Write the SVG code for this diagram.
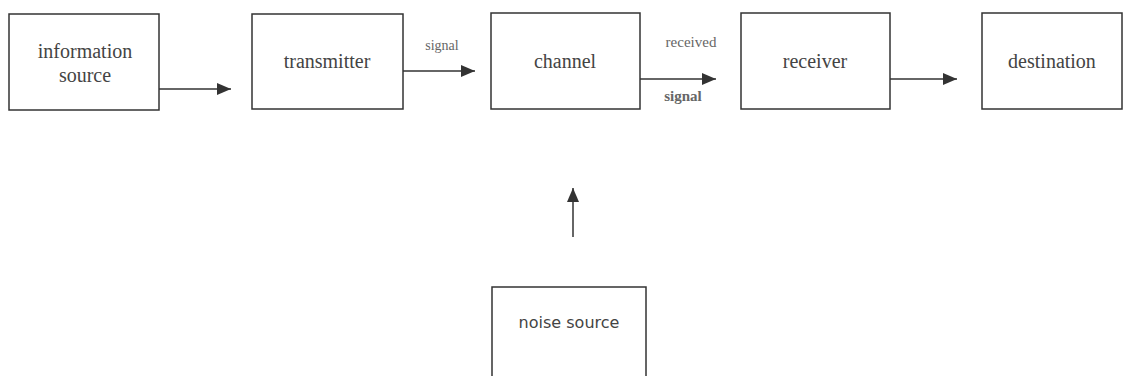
<svg xmlns="http://www.w3.org/2000/svg" width="1126" height="376" viewBox="0 0 1126 376">
<style>
.box{fill:#fff;stroke:#333;stroke-width:1.5}
.t{font-family:"Liberation Serif",serif;font-size:20px;fill:#444;text-anchor:middle}
.s{font-family:"Liberation Serif",serif;font-size:14px;fill:#666;text-anchor:middle}
.c{stroke:#333;stroke-width:1.5;fill:none;marker-end:url(#ah)}
</style>
<defs>
<marker id="ah" markerWidth="14" markerHeight="12" refX="14" refY="6" orient="auto" markerUnits="userSpaceOnUse">
<path d="M0,0 L14,6 L0,12 Z" fill="#333"/>
</marker>
</defs>
<rect width="1126" height="376" fill="#fff"/>
<g id="information-source"><rect class="box" x="9" y="14" width="150" height="96"/><text class="t" x="85" y="58">information</text><text class="t" x="85" y="82">source</text></g>
<g id="transmitter"><rect class="box" x="252" y="14" width="151" height="95"/><text class="t" x="327" y="68">transmitter</text></g>
<g id="channel"><rect class="box" x="491" y="13" width="149" height="96"/><text class="t" x="565" y="68">channel</text></g>
<g id="receiver"><rect class="box" x="741" y="13" width="149" height="96"/><text class="t" x="815" y="68">receiver</text></g>
<g id="destination"><rect class="box" x="982" y="13" width="140" height="96"/><text class="t" x="1052" y="68">destination</text></g>
<g id="noise-source"><rect class="box" x="492" y="287" width="154" height="100"/><text class="t" style="font-family:'DejaVu Sans',sans-serif;font-size:16px" x="569" y="328">noise source</text></g>
<g id="connectors">
<line class="c" x1="159" y1="89" x2="231" y2="89"/>
<line class="c" x1="403" y1="71" x2="475" y2="71"/>
<line class="c" x1="640" y1="79" x2="716" y2="79"/>
<line class="c" x1="890" y1="79" x2="957" y2="79"/>
<line class="c" x1="573" y1="237" x2="573" y2="188"/>
<text class="s" x="442" y="50">signal</text>
<text class="s" x="691" y="47" style="font-size:15px">received</text>
<text class="s" x="683" y="101" style="font-weight:bold;font-size:15px">signal</text>
</g>
</svg>
